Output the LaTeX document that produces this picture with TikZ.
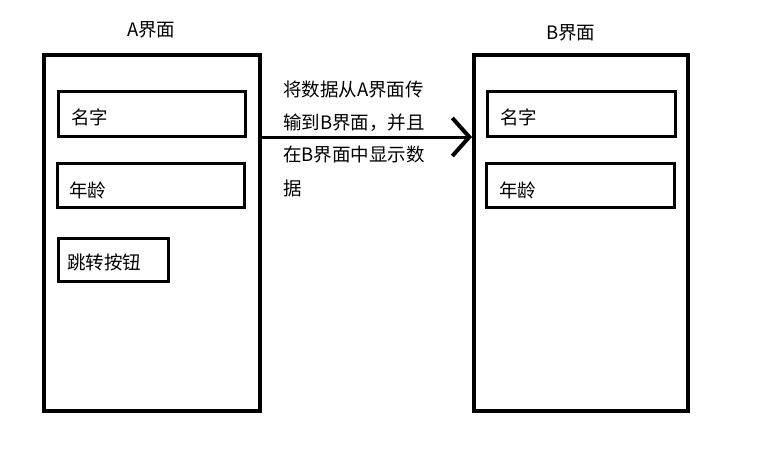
\documentclass[tikz,border=0pt]{standalone}
\usepackage{fontspec}
\setmainfont{Noto Sans CJK SC}
\usetikzlibrary{arrows.meta}
\begin{document}
\begin{tikzpicture}[x=1pt,y=-1pt,
  screen/.style={draw, line width=4pt, inner sep=0pt, outer sep=0pt, anchor=north west},
  field/.style={draw, line width=3pt, inner sep=0pt, outer sep=0pt, anchor=north west},
  lbl/.style={anchor=west, inner sep=0pt, font=\fontsize{18.5pt}{22pt}\selectfont},
  desc/.style={anchor=west, inner sep=0pt, font=\fontsize{18.5pt}{22pt}\selectfont}]
\useasboundingbox (0,0) rectangle (760,455);
% screens
\node (A) [screen, minimum width=216pt, minimum height=356pt] at (44,55) {};
\node (B) [screen, minimum width=214pt, minimum height=356pt] at (474,55) {};
\node (At) [lbl] at (127,30) {A界面};
\node (Bt) [lbl] at (546,33) {B界面};
% A fields
\node (An) [field, minimum width=187pt, minimum height=45pt] at (58.5,91.5) {};
\node (Aa) [field, minimum width=187pt, minimum height=44pt] at (57.5,163.5) {};
\node (Ab) [field, minimum width=110pt, minimum height=43pt] at (58.5,238.5) {};
\node (Anl) [lbl] at (71,117) {名字};
\node (Aal) [lbl] at (69,190) {年龄};
\node (Abl) [lbl] at (67,262) {跳转按钮};
% B fields
\node (Bn) [field, minimum width=188pt, minimum height=45pt] at (487.5,91.5) {};
\node (Ba) [field, minimum width=188pt, minimum height=44pt] at (486.5,163.5) {};
\node (Bnl) [lbl] at (500,117) {名字};
\node (Bal) [lbl] at (499,190) {年龄};
% description
\node (d1) [desc] at (283,90) {将数据从A界面传};
\node (d2) [desc] at (283,123) {输到B界面，并且};
\node (d3) [desc] at (283,155) {在B界面中显示数};
\node (d4) [desc] at (283,188) {据};
% arrow
\draw[line width=3pt, -{Straight Barb[length=17pt,width=38pt,line width=4pt]}, shorten >=2pt]
  (A.east |- 0,137) -- (B.west |- 0,137);
\end{tikzpicture}
\end{document}
